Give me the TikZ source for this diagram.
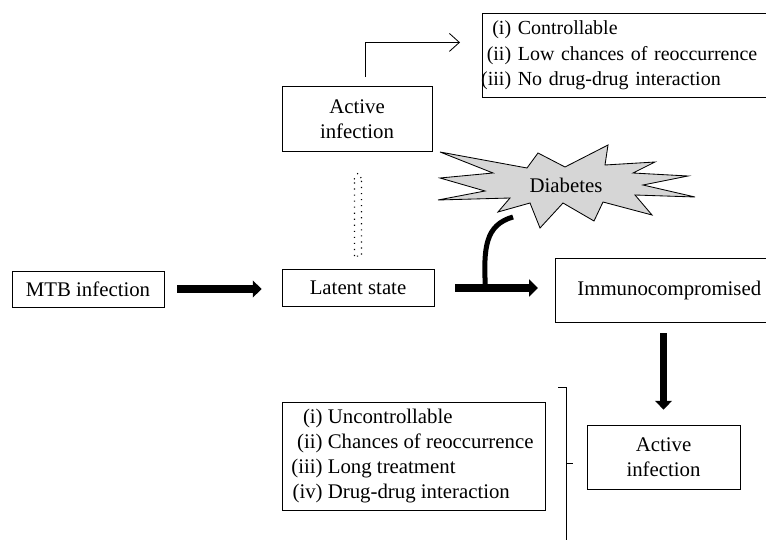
\documentclass[tikz,border=0pt]{standalone}
\usepackage{fontspec}
\setmainfont{Liberation Serif}
\usetikzlibrary{positioning,calc,arrows.meta}

\tikzset{
  box/.style={draw, line width=0.6pt, align=center, font=\fontsize{14.8}{18}\selectfont},
  fatarrow/.style={line width=0.18cm, -{Triangle[length=0.22cm,width=0.42cm]}},
  hollowdots/.style={line width=0.8pt, dash pattern=on 0.8pt off 3.5pt},
}
\newcommand{\nr}[1]{\makebox[1.4em][r]{#1}~}

\begin{document}
\begin{tikzpicture}[x=0.25cm, y=0.25cm]
   \useasboundingbox (0,0) rectangle (76.6,53.9);
   \clip (0,0) rectangle (76.6,53.9);
   % boxes
   \node[box, minimum width=3.8cm, minimum height=0.9cm] (mtb) at (8.8,25) {MTB infection};
   \node[box, minimum width=3.8cm, minimum height=0.925cm] (latent) at (35.8,25.1) {Latent state};
   \node[box, minimum width=3.75cm, minimum height=1.625cm] (active1) at (35.7,42.0) {Active\\infection};
   \node[box, font=\fontsize{14.2}{18}\selectfont, anchor=north west, align=left, text width=9cm, inner xsep=0.02cm, minimum height=2.1cm] (toplist) at (48.2,52.6)
      {\nr{(i)}Controllable\\\nr{(ii)}Low chances of reoccurrence\\\nr{(iii)}No drug-drug interaction};
   \node[box, anchor=west, minimum height=1.6cm, inner xsep=0.55cm] (immuno) at (55.5,24.9) {Immunocompromised};
   \node[box, minimum width=3.825cm, minimum height=1.6cm] (active2) at (66.35,8.2) {Active\\infection};
   \node[box, align=left, minimum width=6.575cm, minimum height=2.7cm] (bottomlist) at (41.35,8.3)
      {\nr{(i)}Uncontrollable\\\nr{(ii)}Chances of reoccurrence\\\nr{(iii)}Long treatment\\\nr{(iv)}Drug-drug interaction};

   % diabetes star
   \filldraw[fill=gray!32, line width=0.6pt] (44.0,38.7) -- (52.7,37.1) -- (53.8,38.6) -- (56.5,37.2) -- (60.8,39.4)
      -- (60.5,37.4) -- (65.5,37.7) -- (63.3,36.6) -- (68.8,36.3) -- (64.3,35.4) -- (69.5,34.2) -- (63.5,34.4)
      -- (65.2,32.4) -- (60.3,33.7) -- (59.4,31.8) -- (56.3,33.6) -- (54.0,31.1) -- (53.0,33.6) -- (49.8,32.7)
      -- (51.0,34.1) -- (43.8,33.9) -- (48.5,34.8) -- (44.0,36.1) -- (49.3,36.6) -- cycle;
   \node[font=\fontsize{14.8}{18}\selectfont] (diab) at (56.6,35.4) {Diabetes};

   % arrows
   \draw[fatarrow, shorten <=0.325cm, shorten >=0.5cm] (mtb.east) -- (mtb.east -| latent.west);
   \draw[fatarrow, shorten <=0.525cm, shorten >=0.425cm] (latent.east) -- (latent.east -| immuno.west);
   \draw[fatarrow, shorten <=0.275cm, shorten >=0.375cm] (immuno.south -| active2.north) -- (active2.north);

   % inhibition by diabetes
   \coordinate (inhstart) at ($(diab)+(-5.3,-3.2)$);
   \coordinate (inhend) at ($(latent.east)+(5.1,0)$);
   \draw[line width=0.125cm] (inhstart) .. controls ($(inhstart)+(-2.8,-0.8)$) and ($(inhend)+(-0.2,4)$) .. (inhend);

   % dotted hollow arrow
   \draw[hollowdots] ($(latent.north)+(-0.35,1.3)$) -- ($(latent.north)+(-0.35,8.8)$) -- ($(latent.north)+(-0.5,8.8)$)
      -- ($(latent.north)+(0,9.6)$) -- ($(latent.north)+(0.5,8.8)$) -- ($(latent.north)+(0.35,8.8)$)
      -- ($(latent.north)+(0.35,1.3)$) -- cycle;

   % to the top list
   \coordinate (toend) at ($(toplist.west)+(-2.2,1.3)$);
   \draw[line width=0.6pt, -{Straight Barb[length=0.25cm,width=0.45cm]}] ($(active1.north)+(0.8,0.9)$) |- (toend);

   % bracket
   \coordinate (brkmid) at ($(bottomlist.east)+(2.1,-0.7)$);
   \draw[line width=0.6pt] ($(brkmid)+(-0.8,7.6)$) -- ++(0.8,0) -- ($(brkmid)+(0,-8.2)$);
   \draw[line width=0.6pt] (brkmid) -- ++(0.7,0);
\end{tikzpicture}
\end{document}
